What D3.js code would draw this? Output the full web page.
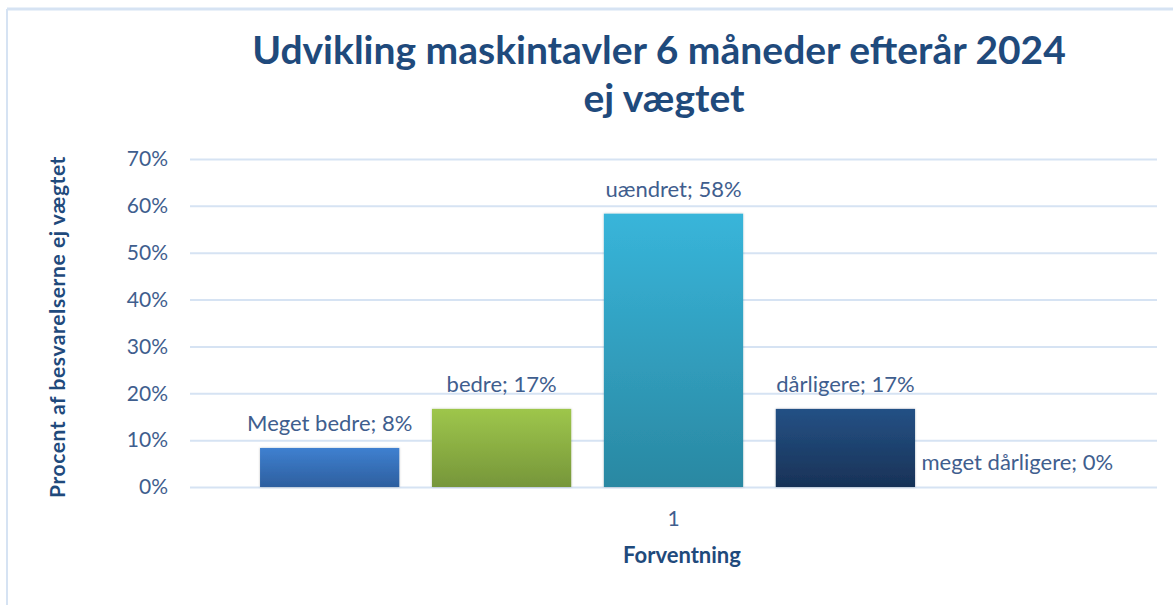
<!DOCTYPE html>
<html>
<head>
<meta charset="utf-8">
<script src="https://cdn.jsdelivr.net/npm/d3@7"></script>
<style>
  body { margin: 0; background: #fff; }
  svg { display: block; font-family: Lato, "Open Sans", sans-serif; }
</style>
</head>
<body>
<svg id="chart" width="1173" height="605"></svg>
<script>
// data
const category = ["1"];
const series = ["Meget bedre", "bedre", "uændret", "dårligere", "meget dårligere"];
const values = [8.33, 16.67, 58.33, 16.67, 0];
const yTicks = [0, 10, 20, 30, 40, 50, 60, 70];
const barColors = [
    ["#3f80d0", "#2d5f9f"],
    ["#9ec64b", "#76963a"],
    ["#38b5da", "#2a88a2"],
    ["#245185", "#183257"],
    ["#4a6fa0", "#2c466b"]
];

const textColor = "#3f5e8e";
const titleColor = "#1f4a7c";

const svg = d3.select("#chart");

// frame lines
svg.append("line").attr("x1", 7).attr("x2", 1173).attr("y1", 9).attr("y2", 9)
    .attr("stroke", "#d6e3f3").attr("stroke-width", 3);
svg.append("line").attr("x1", 7).attr("x2", 7).attr("y1", 9).attr("y2", 605)
    .attr("stroke", "#d6e3f3").attr("stroke-width", 2);

const plot = { left: 190, right: 1157, top: 159, bottom: 487 };

const y = d3.scaleLinear().domain([0, 70]).range([plot.bottom, plot.top]);

const x0 = d3.scaleBand()
    .domain(category)
    .range([plot.left, plot.right])
    .paddingInner(0)
    .paddingOuter(0.0847);

const x1 = d3.scaleBand()
    .domain(series)
    .range([0, x0.bandwidth()])
    .paddingInner(0.19)
    .paddingOuter(0);

// gradients
const defs = svg.append("defs");
series.forEach((s, i) => {
    const g = defs.append("linearGradient")
        .attr("id", "grad" + i)
        .attr("x1", 0).attr("x2", 0).attr("y1", 0).attr("y2", 1);
    g.append("stop").attr("offset", "0%").attr("stop-color", barColors[i][0]);
    g.append("stop").attr("offset", "100%").attr("stop-color", barColors[i][1]);
});
const shadow = defs.append("filter").attr("id", "shadow")
    .attr("x", "-10%").attr("y", "-10%").attr("width", "120%").attr("height", "120%");
shadow.append("feDropShadow").attr("dx", 0).attr("dy", 0).attr("stdDeviation", 1.2)
    .attr("flood-color", "#000").attr("flood-opacity", 0.25);

// gridlines
svg.append("g")
    .attr("transform", `translate(${plot.left},0)`)
    .call(d3.axisLeft(y).tickValues(yTicks).tickSize(-(plot.right - plot.left)).tickFormat(""))
    .call(g => g.select(".domain").remove())
    .call(g => g.selectAll("line").attr("stroke", "#d6e3f3").attr("stroke-width", 2));

// y axis labels
svg.append("g")
    .attr("transform", `translate(${plot.left},0)`)
    .call(d3.axisLeft(y).tickValues(yTicks).tickSize(0).tickPadding(22).tickFormat(d => d + "%"))
    .call(g => g.select(".domain").remove())
    .call(g => g.selectAll("text")
        .attr("fill", textColor)
        .style("font-family", "Lato, sans-serif")
        .style("font-size", "21px"));

// x axis labels
svg.append("g")
    .attr("transform", `translate(0,${plot.bottom})`)
    .call(d3.axisBottom(x0).tickSize(0).tickPadding(24))
    .call(g => g.select(".domain").remove())
    .call(g => g.selectAll("text")
        .attr("fill", textColor)
        .style("font-family", "Lato, sans-serif")
        .style("font-size", "21px"));

// bars
const group = svg.append("g")
    .attr("transform", `translate(${x0(category[0])},0)`);

group.selectAll("rect")
    .data(values)
    .enter()
    .append("rect")
    .attr("x", (d, i) => x1(series[i]))
    .attr("y", d => y(d))
    .attr("width", x1.bandwidth())
    .attr("height", d => y(0) - y(d))
    .attr("fill", (d, i) => `url(#grad${i})`)
    .attr("filter", "url(#shadow)");

// data labels
group.selectAll("text.val")
    .data(values)
    .enter()
    .append("text")
    .attr("class", "val")
    .attr("x", (d, i) => x1(series[i]) + x1.bandwidth() / 2)
    .attr("y", d => y(d) - 17)
    .attr("text-anchor", "middle")
    .attr("fill", textColor)
    .style("font-size", "22px")
    .text((d, i) => `${series[i]}; ${Math.round(d)}%`);

// title
svg.append("text")
    .attr("x", 659).attr("y", 64)
    .attr("text-anchor", "middle")
    .attr("fill", titleColor)
    .style("font-size", "39px")
    .style("font-weight", "bold")
    .text("Udvikling maskintavler 6 måneder efterår 2024");
svg.append("text")
    .attr("x", 664).attr("y", 112)
    .attr("text-anchor", "middle")
    .attr("fill", titleColor)
    .style("font-size", "39px")
    .style("font-weight", "bold")
    .text("ej vægtet");

// axis titles
svg.append("text")
    .attr("transform", "translate(65,327) rotate(-90)")
    .attr("text-anchor", "middle")
    .attr("fill", titleColor)
    .style("font-size", "21px")
    .style("font-weight", "bold")
    .style("letter-spacing", "0.6px")
    .text("Procent af besvarelserne ej vægtet");

svg.append("text")
    .attr("x", 682).attr("y", 563)
    .attr("text-anchor", "middle")
    .attr("fill", titleColor)
    .style("font-size", "22px")
    .style("font-weight", "bold")
    .text("Forventning");
</script>
</body>
</html>
